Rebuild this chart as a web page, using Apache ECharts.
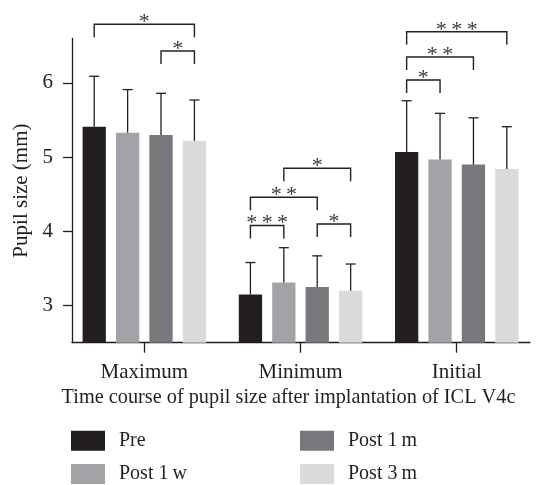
<!DOCTYPE html>
<html><head><meta charset="utf-8">
<script src="https://cdn.jsdelivr.net/npm/echarts@6/dist/echarts.min.js"></script>
<style>html,body{margin:0;padding:0;background:#fff}#c{width:545px;height:485px}</style>
</head><body><div id="c"></div>
<script>
// ---- data ----
const categories = ['Maximum', 'Minimum', 'Initial'];
const groups = ['Pre', 'Post 1\u2009w', 'Post 1\u2009m', 'Post 3\u2009m'];
const preMean    = [5.41, 3.15, 5.07];
const preSD      = [0.68, 0.43, 0.69];
const post1wMean = [5.33, 3.31, 4.97];
const post1wSD   = [0.58, 0.47, 0.62];
const post1mMean = [5.30, 3.25, 4.90];
const post1mSD   = [0.56, 0.42, 0.63];
const post3mMean = [5.22, 3.20, 4.84];
const post3mSD   = [0.55, 0.36, 0.57];
const yTicks = [3, 4, 5, 6];
// significance brackets
const bracketCat   = [0, 0, 1, 1, 1, 1, 2, 2, 2];
const bracketFrom  = [0, 2, 0, 0, 1, 2, 0, 0, 0];
const bracketTo    = [3, 3, 1, 2, 3, 3, 1, 2, 3];
const bracketY     = [6.79, 6.43, 4.08, 4.46, 4.85, 4.10, 6.04, 6.35, 6.69];
const bracketStars = ['*', '*', '*\u2009*\u2009*', '*\u2009*', '*', '*', '*', '*\u2009*', '*\u2009*\u2009*'];

// ---- style / layout ----
const FONT = 'Liberation Serif';
const INK = '#231f20';
const colors = ['#231f20', '#a2a3a6', '#77787b', '#d9dadb'];
const barOffsets = [-0.3207, -0.1069, 0.1069, 0.3207];
const barWidthUnits = 0.149;
const Y_MIN = 2.5, Y_MAX = 6.6;

const means = [preMean, post1wMean, post1mMean, post3mMean];
const sds = [preSD, post1wSD, post1mSD, post3mSD];

function barItem(gi) {
  return function (params, api) {
    const cat = api.value(0), v = api.value(1), sd = api.value(2);
    const xc = cat + barOffsets[gi];
    const top = api.coord([xc, v]);
    const base = api.coord([xc, Y_MIN]);
    const err = api.coord([xc, v + sd]);
    const w = api.size([barWidthUnits, 0])[0];
    return {
      type: 'group',
      children: [
        { type: 'rect', shape: { x: top[0] - w / 2, y: top[1], width: w, height: base[1] - top[1] },
          style: { fill: colors[gi] } },
        { type: 'line', shape: { x1: top[0], y1: top[1], x2: top[0], y2: err[1] },
          style: { stroke: INK, lineWidth: 1.3 } },
        { type: 'line', shape: { x1: top[0] - 5, y1: err[1], x2: top[0] + 5, y2: err[1] },
          style: { stroke: INK, lineWidth: 1.3 } }
      ]
    };
  };
}

const series = groups.map(function (name, gi) {
  return {
    name: name,
    type: 'custom',
    itemStyle: { color: colors[gi] },
    renderItem: barItem(gi),
    encode: { x: 0, y: 1 },
    data: categories.map(function (c, ci) { return [ci, means[gi][ci], sds[gi][ci]]; })
  };
});

series.push({
  name: 'brackets',
  type: 'custom',
  z: 5,
  encode: { x: [0, 1], y: 2 },
  data: bracketCat.map(function (c, i) {
    return [c + barOffsets[bracketFrom[i]], c + barOffsets[bracketTo[i]], bracketY[i]];
  }),
  renderItem: function (params, api) {
    const a = api.coord([api.value(0), api.value(2)]);
    const b = api.coord([api.value(1), api.value(2)]);
    const drop = 13;
    return {
      type: 'group',
      children: [
        { type: 'polyline', shape: { points: [[a[0], a[1] + drop], [a[0], a[1]], [b[0], b[1]], [b[0], b[1] + drop]] },
          style: { stroke: INK, lineWidth: 1.4, fill: null } },
        { type: 'text', x: (a[0] + b[0]) / 2, y: a[1] - 2,
          style: { text: bracketStars[params.dataIndex], font: '22px "' + FONT + '"',
                   fill: '#3a3a3c', align: 'center', verticalAlign: 'middle' } }
      ]
    };
  }
});

const legendCommon = {
  orient: 'vertical', top: 430.7, padding: 0,
  icon: 'rect', itemWidth: 34, itemHeight: 20, itemGap: 13.4,
  textStyle: { fontFamily: FONT, fontSize: 20, lineHeight: 20, color: INK, padding: [0, 0, 0, 9] }
};

const chart = echarts.init(document.getElementById('c'), null, { renderer: 'canvas' });
chart.setOption({
  animation: false,
  backgroundColor: '#fff',
  textStyle: { fontFamily: FONT, color: INK },
  grid: { left: 72, right: 15, top: 38.4, bottom: 142.3, containLabel: false },
  legend: [
    Object.assign({ data: [groups[0], groups[1]], left: 71 }, legendCommon),
    Object.assign({ data: [groups[2], groups[3]], left: 300 }, legendCommon)
  ],
  xAxis: {
    type: 'value', min: -0.463, max: 2.469,
    name: 'Time course of pupil size after implantation of ICL V4c',
    nameLocation: 'middle', nameGap: 29,
    nameTextStyle: { fontFamily: FONT, fontSize: 20.3, color: INK, padding: [0, 25, 0, 0] },
    splitLine: { show: false },
    axisLine: { onZero: false, lineStyle: { color: INK, width: 1.3 } },
    axisTick: { show: true, length: 10, customValues: [0, 1, 2], lineStyle: { color: INK, width: 1.3 } },
    axisLabel: { customValues: [0, 1, 2], margin: 19, fontFamily: FONT, fontSize: 21, color: INK,
      formatter: function (v) { return categories[Math.round(v)]; } }
  },
  yAxis: {
    type: 'value', min: Y_MIN, max: Y_MAX,
    name: 'Pupil size (mm)', nameLocation: 'middle', nameGap: 32, nameRotate: 90,
    nameTextStyle: { fontFamily: FONT, fontSize: 21, color: INK },
    splitLine: { show: false },
    axisLine: { show: true, onZero: false, lineStyle: { color: INK, width: 1.3 } },
    axisTick: { show: true, length: 9, customValues: yTicks, lineStyle: { color: INK, width: 1.3 } },
    axisLabel: { customValues: yTicks, margin: 19, fontFamily: FONT, fontSize: 21, color: INK }
  },
  series: series
});
</script>
</body></html>
